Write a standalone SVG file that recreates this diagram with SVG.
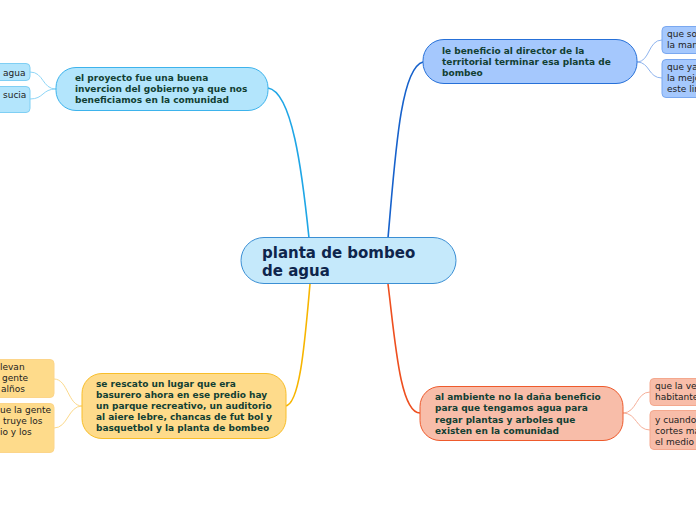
<svg xmlns="http://www.w3.org/2000/svg" width="696" height="520" viewBox="0 0 696 520">
<style>
text{font-family:"DejaVu Sans",Verdana,sans-serif}
.t{font-size:9px;font-weight:bold;fill:#123f33}
.l{font-size:9px;fill:#222}
.c{font-size:15px;font-weight:bold;fill:#0e254c}
.conn path{fill:none}
</style>
<rect width="696" height="520" fill="#ffffff"/>
<g id="connectors" class="conn">
<path d="M309,238 C302,170 292,92 268,88" stroke="#1fa6e6" stroke-width="1.6"/>
<path d="M388,238 C395,160 400,68 423,62" stroke="#1762cc" stroke-width="1.6"/>
<path d="M310,284 C305,340 300,406 285,406" stroke="#f7b500" stroke-width="1.6"/>
<path d="M388,284 C395,340 400,413 420,413" stroke="#ee4f1f" stroke-width="1.6"/>
<path d="M56,89 C42,89 44,72 30,72" stroke="#8fd6f7" stroke-width="1"/>
<path d="M56,89 C42,89 44,99 30,99" stroke="#8fd6f7" stroke-width="1"/>
<path d="M637,62 C650,62 648,40 662,40" stroke="#8fb4ee" stroke-width="1"/>
<path d="M637,62 C650,62 648,78 662,78" stroke="#8fb4ee" stroke-width="1"/>
<path d="M82,406 C68,406 68,379 54,379" stroke="#fcd98a" stroke-width="1"/>
<path d="M82,406 C68,406 68,428 54,428" stroke="#fcd98a" stroke-width="1"/>
<path d="M623,413 C637,413 636,392 650,392" stroke="#f6b09a" stroke-width="1"/>
<path d="M623,413 C637,413 636,430 650,430" stroke="#f6b09a" stroke-width="1"/>
</g>
<g id="center">
<rect x="241" y="237.5" width="215" height="46" rx="23" fill="#c5e9fb" stroke="#3b8fd4" stroke-width="1"/>
<text class="c" x="262" y="258">planta de bombeo</text>
<text class="c" x="262" y="276">de agua</text>
</g>
<g id="n-topleft">
<rect x="56" y="67.5" width="212" height="43" rx="20" fill="#b3e5fc" stroke="#3db3ec" stroke-width="1"/>
<text class="t" x="75" y="81">el proyecto fue una buena</text>
<text class="t" x="75" y="92">invercion del gobierno ya que nos</text>
<text class="t" x="75" y="103">beneficiamos en la comunidad</text>
</g>
<g id="leaf-tl1">
<rect x="-10" y="63.5" width="40" height="17" rx="4" fill="#b3e5fc" stroke="#7fcff4" stroke-width="1"/>
<text class="l" x="3" y="76">agua</text>
</g>
<g id="leaf-tl2">
<rect x="-10" y="86.5" width="40" height="26" rx="4" fill="#b3e5fc" stroke="#7fcff4" stroke-width="1"/>
<text class="l" x="3" y="98">sucia</text>
</g>
<g id="n-topright">
<rect x="423" y="39.5" width="214" height="44" rx="21" fill="#a5c8fd" stroke="#2670d8" stroke-width="1"/>
<text class="t" x="442" y="54">le beneficio al director de la</text>
<text class="t" x="442" y="65">territorial terminar esa planta de</text>
<text class="t" x="442" y="76">bombeo</text>
</g>
<g id="leaf-tr1">
<rect x="662" y="26.5" width="50" height="27" rx="4" fill="#a5c8fd" stroke="#7aa8f0" stroke-width="1"/>
<text class="l" x="667" y="37">que so</text>
<text class="l" x="667" y="48">la man</text>
</g>
<g id="leaf-tr2">
<rect x="662" y="59.5" width="50" height="38" rx="4" fill="#a5c8fd" stroke="#7aa8f0" stroke-width="1"/>
<text class="l" x="667" y="70">que ya</text>
<text class="l" x="667" y="81">la mejo</text>
<text class="l" x="667" y="92">este lin</text>
</g>
<g id="n-bottomleft">
<rect x="82" y="373.5" width="204" height="65" rx="20" fill="#fedb8b" stroke="#f8be2a" stroke-width="1"/>
<text class="t" x="96" y="387">se rescato un lugar que era</text>
<text class="t" x="96" y="398">basurero ahora en ese predio hay</text>
<text class="t" x="96" y="409">un parque recreativo, un auditorio</text>
<text class="t" x="96" y="420">al aiere lebre, chancas de fut bol y</text>
<text class="t" x="96" y="431">basquetbol y la planta de bombeo</text>
</g>
<g id="leaf-bl1">
<rect x="-10" y="359.5" width="64" height="38" rx="4" fill="#fedb8b" stroke="#fcd58a" stroke-width="1"/>
<text class="l" x="0" y="370">levan</text>
<text class="l" x="2" y="381">gente</text>
<text class="l" x="1" y="392">alños</text>
</g>
<g id="leaf-bl2">
<rect x="-10" y="403.5" width="64" height="49" rx="4" fill="#fedb8b" stroke="#fcd58a" stroke-width="1"/>
<text class="l" x="0" y="413">ue la gente</text>
<text class="l" x="3" y="424">truye los</text>
<text class="l" x="0" y="435">io y los</text>
</g>
<g id="n-bottomright">
<rect x="420" y="386.5" width="203" height="54" rx="20" fill="#f8bda9" stroke="#ee5a2c" stroke-width="1"/>
<text class="t" x="435" y="400">al ambiente no la daña beneficio</text>
<text class="t" x="435" y="411">para que tengamos agua para</text>
<text class="t" x="435" y="423">regar plantas y arboles que</text>
<text class="t" x="435" y="434">existen en la comunidad</text>
</g>
<g id="leaf-br1">
<rect x="650" y="378.5" width="60" height="27" rx="4" fill="#f8bda9" stroke="#f4a88e" stroke-width="1"/>
<text class="l" x="655" y="389">que la ve</text>
<text class="l" x="655" y="400">habitante</text>
</g>
<g id="leaf-br2">
<rect x="650" y="410.5" width="60" height="39" rx="4" fill="#f8bda9" stroke="#f4a88e" stroke-width="1"/>
<text class="l" x="655" y="423">y cuando</text>
<text class="l" x="655" y="434">cortes ma</text>
<text class="l" x="655" y="445">el medio</text>
</g>
</svg>
